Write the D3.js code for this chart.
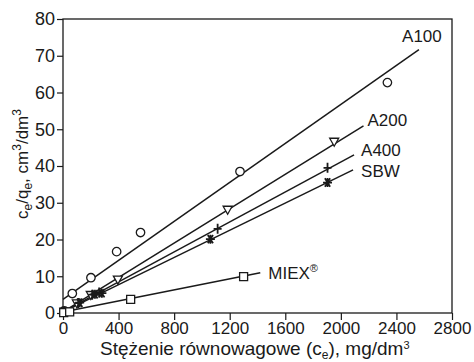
<!DOCTYPE html>
<meta charset="utf-8">
<script src="https://d3js.org/d3.v7.min.js"></script>
<style>
  body { margin: 0; background: #fff; }
  text { font-family: "Liberation Sans", Arial, sans-serif; fill: #1a1a1a; }
</style>
<div id="chart"></div>
<script>

// data (ce in mg/dm3, ce/qe in cm3/dm3)
var seriesNames = ["A100", "A200", "A400", "SBW", "MIEX"];
var a100Ce = [8, 67, 201, 386, 558, 1274, 2335];
var a100Val = [0.6, 5.3, 9.6, 16.7, 21.9, 38.5, 62.7];
var a200Ce = [10, 100, 200, 395, 1185, 1952];
var a200Val = [0.4, 2.6, 4.9, 9.1, 28.1, 46.6];
var a400Ce = [6, 110, 210, 260, 1113, 1904];
var a400Val = [0.3, 2.7, 5.0, 5.6, 22.9, 39.5];
var sbwCe = [12, 120, 230, 280, 1061, 1904];
var sbwVal = [0.4, 2.8, 5.1, 5.4, 20.1, 35.5];
var miexCe = [5, 48, 487, 1300];
var miexVal = [0.1, 0.3, 3.7, 9.9];

// fitted lines: intercept, slope, end of line (ce)
var fitIntercept = [3.7, 0.3, 0.3, 0.3, 0.3];
var fitSlope = [0.02654, 0.0234, 0.0204, 0.0185, 0.0075];
var fitEnd = [2562, 2163, 2095, 2088, 1420];

var xTicks = [0, 400, 800, 1200, 1600, 2000, 2400, 2800];
var yTicks = [0, 10, 20, 30, 40, 50, 60, 70, 80];

var series = [
  {name: "A100", ce: a100Ce, val: a100Val, sym: "circle", dx: 3, dy: -8, anchor: "middle"},
  {name: "A200", ce: a200Ce, val: a200Val, sym: "triangle", dx: 4, dy: 0, anchor: "start"},
  {name: "A400", ce: a400Ce, val: a400Val, sym: "plus", dx: 7, dy: 1, anchor: "start"},
  {name: "SBW", ce: sbwCe, val: sbwVal, sym: "star", dx: 8, dy: 7, anchor: "start"},
  {name: "MIEX", ce: miexCe, val: miexVal, sym: "square", dx: 8, dy: 6, anchor: "start"}
];

var margin = {top: 19, right: 22, bottom: 49, left: 63},
    width = 474 - margin.left - margin.right,
    height = 362 - margin.top - margin.bottom;

var svg = d3.select("#chart")
  .append("svg")
    .attr("width", 474)
    .attr("height", 362)
  .append("g")
    .attr("transform", "translate(" + margin.left + "," + margin.top + ")");

var x = d3.scaleLinear().domain([0, 2800]).range([0, width]);
var y = d3.scaleLinear().domain([0, 80]).range([height, 0]);

// axes
var xAxis = svg.append("g")
  .attr("transform", "translate(0," + height + ")")
  .call(d3.axisBottom(x).tickValues(xTicks).tickSize(7).tickPadding(2).tickFormat(d3.format("d")));
xAxis.selectAll(".tick text").style("font-size", "17px");
var yAxis = svg.append("g")
  .call(d3.axisLeft(y).tickValues(yTicks).tickSize(6).tickPadding(2));
yAxis.selectAll(".tick text").style("font-size", "18px");

svg.selectAll(".domain").remove();
svg.selectAll(".tick line").attr("stroke", "#1a1a1a").attr("stroke-width", 1.2);
svg.selectAll(".tick text").attr("fill", "#1a1a1a");

// frame
svg.append("rect")
  .attr("width", width)
  .attr("height", height)
  .attr("fill", "none")
  .attr("stroke", "#1a1a1a")
  .attr("stroke-width", 1.3);

// axis titles
var xt = svg.append("text")
  .attr("x", 37)
  .attr("y", height + 42)
  .style("font-size", "19px");
xt.append("tspan").text("Stężenie równowagowe (c");
xt.append("tspan").attr("dy", 4).style("font-size", "12px").text("e");
xt.append("tspan").attr("dy", -4).text("), mg/dm");
xt.append("tspan").attr("dy", -6).style("font-size", "11px").text("3");

var yt = svg.append("text")
  .attr("transform", "translate(" + (28 - margin.left) + "," + (164 - margin.top) + ") rotate(-90)")
  .attr("text-anchor", "middle")
  .style("font-size", "17px");
yt.append("tspan").text("c");
yt.append("tspan").attr("dy", 4).style("font-size", "12px").text("e");
yt.append("tspan").attr("dy", -4).text("/q");
yt.append("tspan").attr("dy", 4).style("font-size", "12px").text("e");
yt.append("tspan").attr("dy", -4).text(", cm");
yt.append("tspan").attr("dy", -7).style("font-size", "12px").text("3");
yt.append("tspan").attr("dy", 7).text("/dm");
yt.append("tspan").attr("dy", -7).style("font-size", "12px").text("3");

// fitted lines
series.forEach(function(s, i) {
  svg.append("line")
    .attr("x1", x(0))
    .attr("y1", y(fitIntercept[i]))
    .attr("x2", x(fitEnd[i]))
    .attr("y2", y(fitIntercept[i] + fitSlope[i] * fitEnd[i]))
    .attr("stroke", "#1a1a1a")
    .attr("stroke-width", 1.5);
});

// markers
function markerPath(sym) {
  if (sym == "circle") return d3.symbol().type(d3.symbolCircle).size(56)();
  if (sym == "square") return "M-4,-4H4V4H-4Z";
  if (sym == "triangle") return "M-4.5,-3.5H4.5L0,4.5Z";
  if (sym == "plus") return "M-4,0H4M0,-5V5";
  if (sym == "star") return "M-4.5,0H4.5M-2.6,-4.2L2.6,4.2M2.6,-4.2L-2.6,4.2M0,-4.5V4.5";
}

series.forEach(function(s) {
  var pts = s.ce.map(function(c, j) { return {ce: c, val: s.val[j]}; });
  svg.selectAll(".pt-" + s.name)
    .data(pts)
    .enter()
    .append("path")
      .attr("class", "pt-" + s.name)
      .attr("transform", function(d) { return "translate(" + x(d.ce) + "," + y(d.val) + ")"; })
      .attr("d", markerPath(s.sym))
      .attr("fill", "#fff")
      .attr("stroke", "#1a1a1a")
      .attr("stroke-width", s.sym == "star" || s.sym == "plus" ? 1.8 : 1.3);
});

// line labels
series.forEach(function(s, i) {
  var t = svg.append("text")
    .attr("x", x(fitEnd[i]) + s.dx)
    .attr("y", y(fitIntercept[i] + fitSlope[i] * fitEnd[i]) + s.dy)
    .attr("text-anchor", s.anchor)
    .style("font-size", "17px")
    .text(s.name);
  if (s.name == "MIEX") {
    t.append("tspan").attr("dy", -7).style("font-size", "11px").text("®");
  }
});

</script>
